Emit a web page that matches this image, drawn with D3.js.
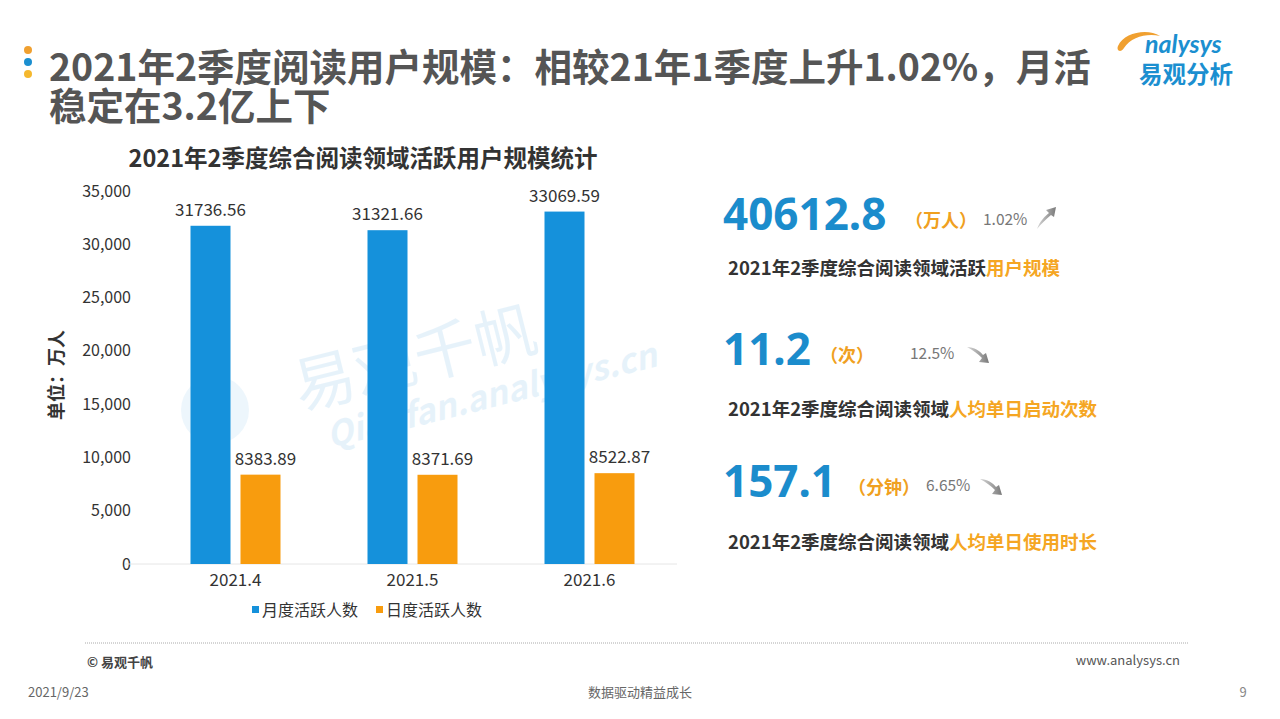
<!DOCTYPE html>
<html>
<head>
<meta charset="utf-8">
<script src="https://cdn.jsdelivr.net/npm/d3@7"></script>
<style>
  body { margin: 0; background: #fff; }
  svg { font-family: "Noto Sans CJK SC", "Noto Sans", sans-serif; }
</style>
</head>
<body>
<svg id="chart" width="1280" height="719"></svg>
<script>
var months = ['2021.4', '2021.5', '2021.6'];
var series_names = ['月度活跃人数', '日度活跃人数'];
var mau = [31736.56, 31321.66, 33069.59];
var dau = [8383.89, 8371.69, 8522.87];
var y_ticks = [0, 5000, 10000, 15000, 20000, 25000, 30000, 35000];
var kpi_values = ['40612.8', '11.2', '157.1'];
var kpi_units = ['（万人）', '（次）', '（分钟）'];
var kpi_changes = ['1.02%', '12.5%', '6.65%'];
var kpi_dirs = ['up', 'down', 'down'];
var kpi_prefix = '2021年2季度综合阅读领域';
var kpi_labels_plain = ['活跃', '', ''];
var kpi_labels_hl = ['用户规模', '人均单日启动次数', '人均单日使用时长'];
var title_lines = ['2021年2季度阅读用户规模：相较21年1季度上升1.02%，月活', '稳定在3.2亿上下'];

var blue = '#1591db', orange = '#f89c0e';
var svg = d3.select('#chart');

var defs = svg.append('defs');
var grad = defs.append('linearGradient').attr('id', 'arrgrad');
grad.append('stop').attr('offset', '0%').attr('stop-color', '#d6d6d6');
grad.append('stop').attr('offset', '100%').attr('stop-color', '#7a7a7a');

// header
var dots = [['#f0a030', 50], ['#1b8fd0', 62], ['#f5b82e', 74]];
svg.selectAll('.hdot').data(dots).enter().append('circle')
  .attr('cx', 28).attr('cy', d => d[1]).attr('r', 4).attr('fill', d => d[0]);
var title = svg.append('text').attr('x', 49).attr('y', 81)
  .attr('font-size', 37.5).attr('font-weight', 'bold').attr('fill', '#555');
title.selectAll('tspan').data(title_lines).enter().append('tspan')
  .attr('x', 49).attr('dy', (d, i) => i ? 39 : 0).text(d => d);

// logo
svg.append('path').attr('d', 'M1118,46 C1124,32 1148,28 1160,36 C1147,33 1131,37 1124,48 C1121,53 1116,51 1118,46 Z')
  .attr('fill', '#f0a030');
svg.append('text').attr('x', 1145).attr('y', 53).attr('font-size', 25)
  .attr('font-style', 'italic').attr('font-weight', 'bold').attr('fill', '#1b8fd0')
  .attr('font-family', 'Lato, sans-serif').text('nalysys');
svg.append('text').attr('x', 1139).attr('y', 83).attr('font-size', 23.5)
  .attr('font-weight', 'bold').attr('fill', '#1b8fd0').text('易观分析');

// watermark
var wm = svg.append('g').attr('transform', 'translate(300,410) rotate(-14)').attr('opacity', 0.13);
wm.append('text').attr('x', 0).attr('y', 0).attr('font-size', 62).attr('fill', '#4aa3e0').text('易观千帆');
wm.append('text').attr('x', 20).attr('y', 44).attr('font-size', 34).attr('font-weight', 'bold')
  .attr('font-style', 'italic').attr('fill', '#4aa3e0').text('Qianfan.analysys.cn');
svg.append('circle').attr('cx', 215).attr('cy', 410).attr('r', 34).attr('fill', '#4aa3e0').attr('opacity', 0.1);

// bar chart
svg.append('text').attr('x', 363).attr('y', 167).attr('text-anchor', 'middle')
  .attr('font-size', 23.5).attr('font-weight', 'bold').attr('fill', '#333')
  .text('2021年2季度综合阅读领域活跃用户规模统计');

var y = d3.scaleLinear().domain([0, 35000]).range([564, 191]);
var x0 = d3.scaleBand().domain(months).range([147, 678]);
var x1 = d3.scaleBand().domain(series_names).range([0, 90]).paddingInner(0.2);

var yAxis = svg.append('g').attr('transform', 'translate(131,0)')
  .call(d3.axisLeft(y).tickValues(y_ticks).tickFormat(d3.format(',')).tickSize(0).tickPadding(0));
yAxis.select('.domain').remove();
yAxis.selectAll('text').attr('font-size', 16).attr('fill', '#333')
  .attr('font-family', '"Noto Sans CJK SC", sans-serif');

svg.append('line').attr('x1', 125).attr('x2', 677).attr('y1', y(0)).attr('y2', y(0))
  .attr('stroke', '#e6e6e6').attr('stroke-width', 1);

var xAxis = svg.append('g').attr('transform', 'translate(0,' + y(0) + ')')
  .call(d3.axisBottom(x0).tickSize(0).tickPadding(10));
xAxis.select('.domain').remove();
xAxis.selectAll('text').attr('font-size', 17).attr('fill', '#333')
  .attr('font-family', '"Noto Sans CJK SC", sans-serif');

svg.append('text').attr('transform', 'translate(63,375) rotate(-90)')
  .attr('text-anchor', 'middle').attr('font-size', 18).attr('font-weight', 'bold').attr('fill', '#333')
  .text('单位：万人');

var rows = months.map((m, i) => ({month: m, vals: [mau[i], dau[i]]}));
var groups = svg.selectAll('.grp').data(rows).enter().append('g')
  .attr('transform', d => 'translate(' + (x0(d.month) + (x0.bandwidth() - 90) / 2) + ',0)');
var colors = [blue, orange];
groups.selectAll('rect').data(d => d.vals.map((v, k) => ({k: k, v: v}))).enter().append('rect')
  .attr('x', d => x1(series_names[d.k]))
  .attr('width', x1.bandwidth())
  .attr('y', d => y(d.v))
  .attr('height', d => y(0) - y(d.v))
  .attr('fill', d => colors[d.k]);
groups.selectAll('.vlab').data(d => d.vals.map((v, k) => ({k: k, v: v}))).enter().append('text')
  .attr('x', d => x1(series_names[d.k]) + x1.bandwidth() / 2 + (d.k ? 5 : 0))
  .attr('y', d => y(d.v) - 10)
  .attr('text-anchor', 'middle').attr('font-size', 17).attr('fill', '#333')
  .text(d => d3.format('.2f')(d.v));

// legend
var leg = svg.selectAll('.leg').data(series_names).enter().append('g')
  .attr('transform', (d, i) => 'translate(' + (252 + i * 124) + ',611)');
leg.append('rect').attr('x', 0).attr('y', -5).attr('width', 7).attr('height', 7).attr('fill', (d, i) => colors[i]);
leg.append('text').attr('x', 10).attr('y', 5).attr('font-size', 16).attr('fill', '#333').text(d => d);

// KPI panel
var kpiY = [230, 365, 497];
var labY = [275, 416, 549];
var unitX = [905, 820, 848];
var chgX = [983, 910, 926];
var arrX = [1037, 967, 980];
kpi_values.forEach(function(v, i) {
  var g = svg.append('g');
  g.append('text').attr('x', 723).attr('y', kpiY[i]).attr('font-size', 44).attr('font-weight', 'bold')
    .attr('fill', '#1b8ccc').attr('font-family', '"Noto Sans", sans-serif').text(v);
  g.append('text').attr('x', unitX[i]).attr('y', kpiY[i] - 3).attr('font-size', 18).attr('font-weight', 'bold')
    .attr('fill', '#f0a020').text(kpi_units[i]);
  g.append('text').attr('x', chgX[i]).attr('y', kpiY[i] - (i === 0 ? 5 : 6)).attr('font-size', 15.5)
    .attr('fill', '#777').text(kpi_changes[i]);
  var a = kpi_dirs[i] === 'up'
    ? {t: 'translate(' + arrX[i] + ',' + (kpiY[i] - 1) + ')',
       d: 'M0,0 C3,-8 8,-13 12,-16 L9,-19 L19,-22 L17,-12 L14,-14 C9,-10 4,-5 0,0 Z'}
    : {t: 'translate(' + arrX[i] + ',' + (kpiY[i] - 18) + ')',
       d: 'M0,0 C7,0 13,4 16,8 L19,6 L22,16 L12,15 L15,11 C11,7 6,3 0,0 Z'};
  g.append('path').attr('transform', a.t).attr('d', a.d).attr('fill', 'url(#arrgrad)');
  var lab = g.append('text').attr('x', 728).attr('y', labY[i]).attr('font-size', 18.5)
    .attr('font-weight', 'bold').attr('fill', '#333');
  lab.append('tspan').text(kpi_prefix + kpi_labels_plain[i]);
  lab.append('tspan').attr('fill', '#f5a623').text(kpi_labels_hl[i]);
});

// footer
svg.append('line').attr('x1', 85).attr('x2', 1188).attr('y1', 643).attr('y2', 643)
  .attr('stroke', '#aaa').attr('stroke-width', 1).attr('stroke-dasharray', '1,1');
svg.append('text').attr('x', 87).attr('y', 667).attr('font-size', 13).attr('font-weight', 'bold')
  .attr('fill', '#444').text('© 易观千帆');
svg.append('text').attr('x', 1180).attr('y', 665).attr('text-anchor', 'end').attr('font-size', 13)
  .attr('fill', '#555').text('www.analysys.cn');
svg.append('text').attr('x', 28).attr('y', 697).attr('font-size', 13).attr('fill', '#666').text('2021/9/23');
svg.append('text').attr('x', 640).attr('y', 697).attr('text-anchor', 'middle').attr('font-size', 13)
  .attr('fill', '#666').text('数据驱动精益成长');
svg.append('text').attr('x', 1243).attr('y', 697).attr('text-anchor', 'middle').attr('font-size', 13)
  .attr('fill', '#888').text('9');
</script>
</body>
</html>
